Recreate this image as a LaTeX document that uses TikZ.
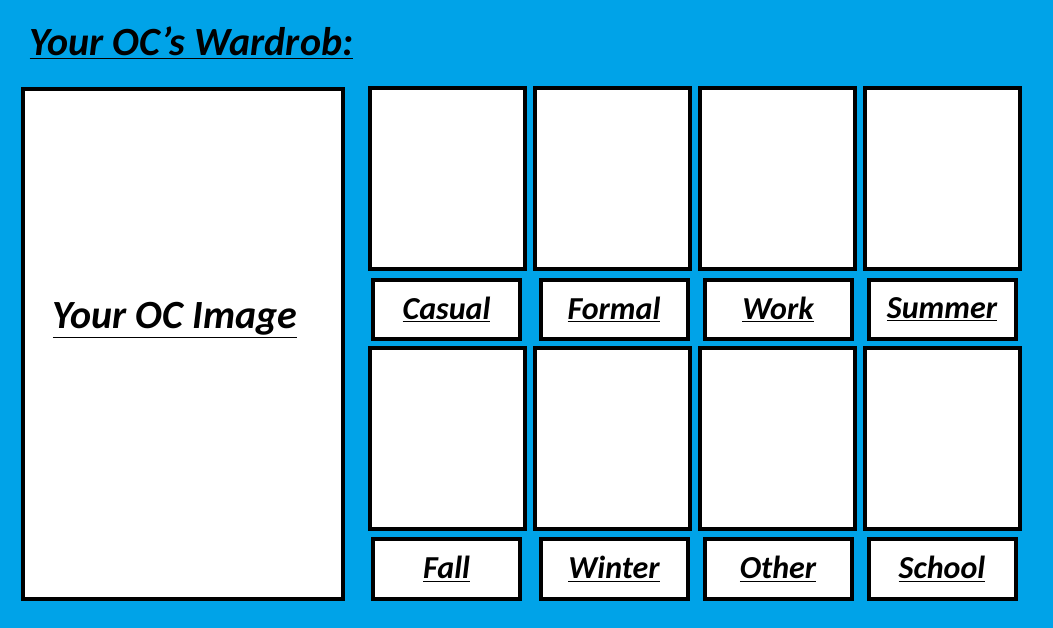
\documentclass[tikz,border=0pt]{standalone}
\usepackage{fontspec}
\setmainfont{Carlito}
\usepackage{tikz}
\usetikzlibrary{positioning}
\definecolor{skyblue}{RGB}{0,163,232}
\begin{document}
\begin{tikzpicture}[x=0.75pt,y=-0.75pt]
    \tikzstyle{frame}=[draw=black,fill=white,line width=3pt,inner sep=0pt]
    \tikzstyle{tag}=[font=\bfseries\itshape\fontsize{24}{28}\selectfont]

\fill[skyblue] (0,0) rectangle (1053,628);
\useasboundingbox (0,0) rectangle (1053,628);

% Title
\node[tag, anchor=west, font=\bfseries\itshape\fontsize{30}{34}\selectfont] (title) at (25,43) {\underline{Your OC\char"27 s Wardrob:}};

% OC image
\node[frame, minimum width=320pt*0.75, minimum height=510pt*0.75] (oc) at (182.5,343.5) {};
\node[tag, font=\bfseries\itshape\fontsize{30}{34}\selectfont] (octext) at (175,320) {\underline{Your OC Image}};

% Outfit boxes
\foreach \i/\x/\lx in {1/447.5/446.5, 2/612.5/614, 3/777.5/778, 4/942.5/942}
{
    \node[frame, minimum width=155pt*0.75, minimum height=181pt*0.75] (top\i) at (\x,178.5) {};
    \node[frame, minimum width=147pt*0.75, minimum height=59pt*0.75] (toplab\i) at (\lx,309.5) {};
    \node[frame, minimum width=155pt*0.75, minimum height=181pt*0.75] (bot\i) at (\x,438.5) {};
    \node[frame, minimum width=147pt*0.75, minimum height=60pt*0.75] (botlab\i) at (\lx,569) {};
}

% Labels
\foreach \i/\t in {1/Casual, 2/Formal, 3/Work, 4/Summer}
    \node[tag] at (toplab\i) {\underline{\t}};
\foreach \i/\t in {1/Fall, 2/Winter, 3/Other, 4/School}
    \node[tag] at (botlab\i) {\underline{\t}};

\end{tikzpicture}
\end{document}
